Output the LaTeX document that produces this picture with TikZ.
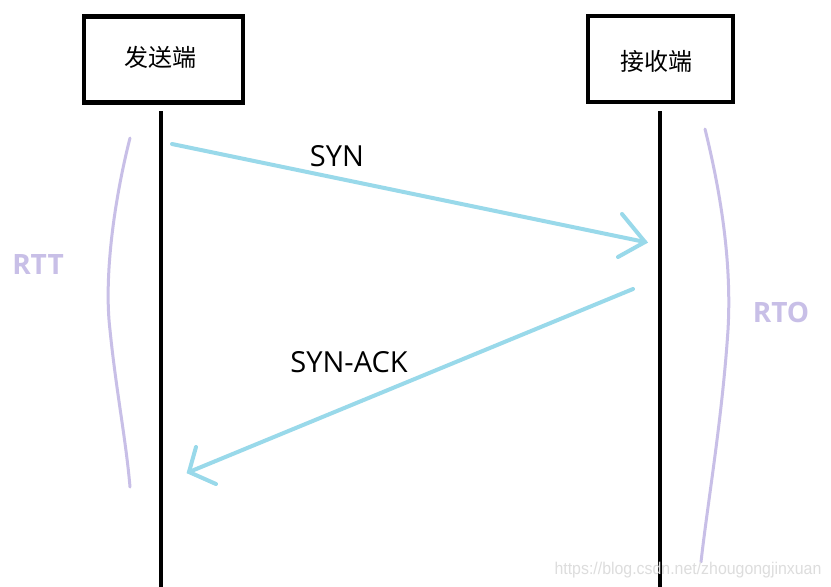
\documentclass[tikz,border=0pt]{standalone}
\usepackage{fontspec}
\setmainfont{Open Sans}
\newfontfamily\cjk{Noto Sans CJK SC}
\newfontfamily\wmfont{Liberation Sans}
\definecolor{msgblue}{HTML}{99D9EA}
\definecolor{lav}{HTML}{C8BFE7}
\definecolor{wmgray}{HTML}{DDDDDD}
\begin{document}
\begin{tikzpicture}[x=1pt,y=-1pt,
  party/.style={draw=black,line width=4.3pt,minimum height=86pt,inner sep=0pt},
  partytext/.style={font=\cjk\fontsize{24}{26}\selectfont,inner sep=0pt},
  lifeline/.style={line width=3.8pt,black},
  msg/.style={line width=4pt,msgblue,line cap=round},
  span/.style={line width=3pt,lav,line cap=round},
  msglabel/.style={font=\fontsize{29}{32}\selectfont,inner sep=0pt},
  spanlabel/.style={font=\bfseries\fontsize{28}{30}\selectfont,text=lav,inner sep=0pt}]
\useasboundingbox (0,0) rectangle (831,587);
\fill[white] (0,0) rectangle (831,587);
% parties
\node[party,minimum width=159pt] (snd) at (163.5,59.5) {};
\node[partytext] (sndL) at (160,57) {发送端};
\node[party,minimum width=145pt] (rcv) at (660.5,59) {};
\node[partytext] (rcvL) at (656,61) {接收端};
% lifelines
\coordinate (sTop) at (161,111);
\coordinate (sBot) at (161,587);
\coordinate (rTop) at (660,111);
\coordinate (rBot) at (660,587);
\draw[lifeline] (sTop) -- (sBot);
\draw[lifeline] (rTop) -- (rBot);
% SYN
\coordinate (synA) at (172,144);
\coordinate (synB) at (645,242);
\coordinate (synU) at (622,214);
\coordinate (synD) at (618,257);
\draw[msg] (synA) -- (synB);
\draw[msg] (synU) -- (synB) -- (synD);
\node[msglabel] (synL) at (337,156) {SYN};
% SYN-ACK
\coordinate (ackA) at (633,289);
\coordinate (ackB) at (189,472);
\coordinate (ackU) at (196,447);
\coordinate (ackD) at (216,484);
\draw[msg] (ackA) -- (ackB);
\draw[msg] (ackU) -- (ackB) -- (ackD);
\node[msglabel] (ackL) at (349,362) {SYN-ACK};
% RTT
\coordinate (rttT) at (130,138);
\coordinate (rttB) at (130,487);
\draw[span] (rttT) .. controls (113,205) and (104,280) .. (110,330) .. controls (116,390) and (126,440) .. (rttB);
\node[spanlabel] (rttL) at (38,265) {RTT};
% RTO
\coordinate (rtoT) at (705,129);
\coordinate (rtoB) at (701,562);
\draw[span] (rtoT) .. controls (720,190) and (732,260) .. (728,330) .. controls (722,420) and (708,500) .. (rtoB);
\node[spanlabel] (rtoL) at (781,312) {RTO};
% watermark
\node[font=\wmfont\fontsize{17}{18}\selectfont,text=wmgray,inner sep=0pt,xscale=0.935] (wm) at (688,570) {https://blog.csdn.net/zhougongjinxuan};
\end{tikzpicture}
\end{document}
